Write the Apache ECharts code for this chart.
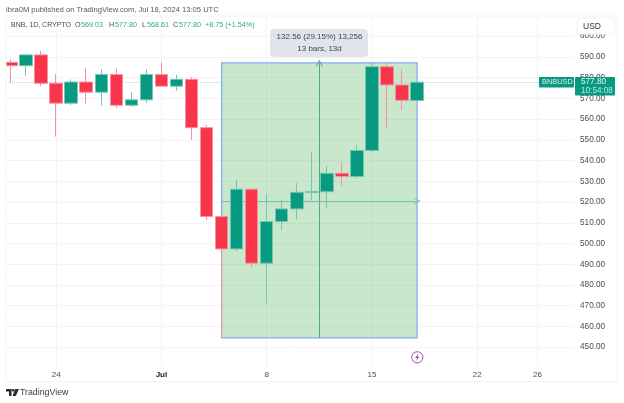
<!DOCTYPE html>
<html><head><meta charset="utf-8">
<style>html,body{margin:0;padding:0;background:#fff}#c{width:624px;height:403px;filter:blur(0.35px)}</style>
<script src="https://cdn.jsdelivr.net/npm/echarts@6/dist/echarts.min.js"></script>
</head><body><div id="c"></div>
<script>
const candleDates=['Jun 21','Jun 22','Jun 23','Jun 24','Jun 25','Jun 26','Jun 27','Jun 28','Jun 29','Jun 30','Jul 1','Jul 2','Jul 3','Jul 4','Jul 5','Jul 6','Jul 7','Jul 8','Jul 9','Jul 10','Jul 11','Jul 12','Jul 13','Jul 14','Jul 15','Jul 16','Jul 17','Jul 18'];
const futureDates=['Jul 19','Jul 20','Jul 21','Jul 22','Jul 23','Jul 24','Jul 25','Jul 26','Jul 27','Jul 28'];
const opens =[587.4,585.8,591.0,577.3,567.7,577.9,573.0,581.5,566.7,569.3,581.5,575.9,579.2,555.9,513.0,497.4,526.2,490.5,510.6,516.7,524.7,525.0,533.9,532.3,544.9,585.3,576.5,569.03];
const highs =[588.9,591.0,592.9,581.7,579.2,584.5,584.2,584.5,573.0,584.2,587.4,581.3,580.2,557.2,513.3,530.7,526.7,523.9,521.0,529.1,544.3,537.6,539.2,547.7,587.1,587.7,584.2,577.80];
const lows  =[577.6,580.8,576.0,551.6,566.7,567.5,566.5,565.3,566.0,567.7,575.9,573.7,550.0,511.4,454.5,496.1,488.6,471.2,506.5,511.4,520.7,517.0,527.8,531.3,544.2,555.3,564.4,568.61];
const closes=[585.8,591.0,577.3,567.7,577.9,573.0,581.5,566.7,569.3,581.5,575.9,579.2,555.9,513.0,497.4,526.2,490.5,510.6,516.7,524.7,525.0,533.9,532.3,544.9,585.3,576.5,569.1,577.80];
const timeTicks={'Jun 24':'24','Jul 1':'Jul','Jul 8':'8','Jul 15':'15','Jul 22':'22','Jul 26':'26'};
const measureLow=454.5, measureHigh=587.1, measureMid=520.5;
const measureFrom=14, measureTo=27, measureCentre=20.5;
const lastPrice=577.80;

const UP='#089981', DOWN='#f7364b', UPW='#74c6b6', DOWNW='#f98f9c', GRID='#f2f4f9', TXT='#4a4d57';
const F='"Liberation Sans",Arial,sans-serif';
const cats=candleDates.concat(futureDates);
const ohlc=candleDates.map((d,i)=>[opens[i],closes[i],lows[i],highs[i]]);
const chev='path://M0,10 L5,0 L10,10 L8.6,10 L5,2.8 L1.4,10 Z';
const chart=echarts.init(document.getElementById('c'),null,{renderer:'canvas'});
const txt=(x,y,text,o)=>({type:'text',z:50,style:Object.assign({x,y,text,font:'8px '+F,fill:TXT},o||{})});
const vLine={color:'#45ad92',width:1,type:'solid'}, hLine={color:'#74c4ac',width:1,type:'solid'}, dLine={color:'#b5dfd4',width:1,type:'dotted'};
chart.setOption({
 animation:false,backgroundColor:'#fff',
 grid:{left:3.5,top:15.5,width:571.52,height:352.4,containLabel:false},
 xAxis:[{type:'category',data:cats,boundaryGap:true,axisLine:{show:false},axisTick:{show:false},
   splitLine:{show:true,alignWithLabel:true,interval:(i,v)=>v in timeTicks,lineStyle:{color:GRID,width:1}},
   axisLabel:{interval:(i,v)=>v in timeTicks,margin:3,hideOverlap:false,formatter:v=>v==='Jul 1'?'{b|Jul}':(timeTicks[v]||''),color:TXT,fontFamily:F,fontSize:8,
     rich:{b:{fontWeight:'bold',color:'#222',fontFamily:F,fontSize:8}}}},
  {type:'value',min:-0.5,max:37.5,show:false,splitLine:{show:false}}],
 yAxis:{type:'value',position:'right',min:440,max:610,interval:10,axisLine:{show:false},axisTick:{show:false},
   splitLine:{showMinLine:false,showMaxLine:false,lineStyle:{color:GRID,width:1}},
   axisLabel:{margin:5,color:TXT,fontFamily:F,fontSize:8.2,formatter:v=>(v===440||v===610)?'':v.toFixed(2)}},
 series:[
  {type:'line',xAxisIndex:1,data:[],z:1,silent:true,
   markArea:{z:1,silent:true,itemStyle:{color:'rgba(76,175,80,0.3)',borderColor:'#7fa8f6',borderWidth:1.2},
     data:[[{coord:[measureFrom,measureHigh]},{coord:[measureTo,measureLow]}]]},
   markLine:{z:2,silent:true,animation:false,label:{show:false},symbol:['none','none'],
     data:[
      [{coord:[measureCentre,measureLow],symbol:'none',lineStyle:vLine},{coord:[measureCentre,measureHigh],symbol:chev,symbolSize:7,lineStyle:vLine}],
      [{coord:[measureFrom,measureMid],symbol:'none',lineStyle:hLine},{coord:[measureTo,measureMid],symbol:chev,symbolSize:7,lineStyle:hLine}],
      [{coord:[-0.33,lastPrice],symbol:'none',lineStyle:dLine},{coord:[35.1,lastPrice],symbol:'none',lineStyle:dLine}]
     ]}},
  {type:'candlestick',z:3,data:ohlc,barWidth:13,silent:true,clip:false,
   itemStyle:{color:UP,color0:DOWN,borderColor:UPW,borderColor0:DOWNW,borderWidth:1}}
 ],
 graphic:[
  {type:'rect',z:40,shape:{x:0,y:14,width:6,height:368},style:{fill:'#fff'}},
  {type:'rect',z:41,shape:{x:6,y:16,width:611,height:365.7},style:{fill:'none',stroke:'#f0f2f7',lineWidth:1}},
  txt(6,5.5,'ibra0M published on TradingView.com, Jul 18, 2024 13:05 UTC',{fill:'#555864',font:'7.6px '+F}),
  txt(11,22,'BNB, 1D, CRYPTO',{font:'7px '+F}),
  txt(75,22,'O',{font:'7.2px '+F}),txt(81,22,'569.03',{font:'7.2px '+F,fill:'#2ea78e'}),
  txt(109,22,'H',{font:'7.2px '+F}),txt(115,22,'577.80',{font:'7.2px '+F,fill:'#2ea78e'}),
  txt(142,22,'L',{font:'7.2px '+F}),txt(147,22,'568.61',{font:'7.2px '+F,fill:'#2ea78e'}),
  txt(173,22,'C',{font:'7.2px '+F}),txt(179,22,'577.80',{font:'7.2px '+F,fill:'#2ea78e'}),
  txt(205,22,'+8.75 (+1.54%)',{font:'7.2px '+F,fill:'#2ea78e'}),
  {type:'rect',z:45,shape:{x:270,y:29,width:98,height:28,r:4},style:{fill:'#e2e4eb'}},
  txt(319.5,33,'132.56 (29.15%) 13,256',{align:'center',fill:'#44464f',font:'8px '+F}),
  txt(319.5,45,'13 bars, 13d',{align:'center',fill:'#44464f',font:'8px '+F}),
  {type:'rect',z:46,shape:{x:577,y:18,width:38,height:16,r:3},style:{fill:'#fff',stroke:'#f0f2f7'}},
  txt(583,22,'USD',{fill:'#33353d',font:'8.5px '+F}),
  {type:'rect',z:47,shape:{x:539,y:77,width:35,height:10.5,r:1},style:{fill:UP}},
  txt(542,78.5,'BNBUSD',{fill:'#d8f0ea',font:'7.4px '+F}),
  {type:'rect',z:48,shape:{x:575,y:77,width:40,height:18.5,r:1},style:{fill:UP}},
  txt(581,77.5,'577.80',{fill:'#e4f5f0',font:'8.2px '+F}),
  txt(581,87,'10:54:08',{fill:'#bfe6dc',font:'8.2px '+F}),
  {type:'circle',z:48,shape:{cx:417.3,cy:357.3,r:5.6},style:{fill:'#fff',stroke:'#ab47bc',lineWidth:1}},
  {type:'polygon',z:49,shape:{points:[[418.3,353.8],[415.1,357.9],[417,357.9],[416.2,360.8],[419.5,356.7],[417.6,356.7]]},style:{fill:'#ab47bc'}},
  {type:'polygon',z:49,shape:{points:[[6,389],[11.5,389],[11.5,396],[9,396],[9,391.5],[6,391.5]]},style:{fill:'#2a2e39'}},
  {type:'circle',z:49,shape:{cx:13,cy:390.3,r:1.3},style:{fill:'#2a2e39'}},
  {type:'polygon',z:49,shape:{points:[[15,389],[19,389],[15.8,396],[12.6,396]]},style:{fill:'#2a2e39'}},
  txt(20,388,'TradingView',{fill:'#3a3d47',font:'8.8px '+F})
 ]
});
</script></body></html>
